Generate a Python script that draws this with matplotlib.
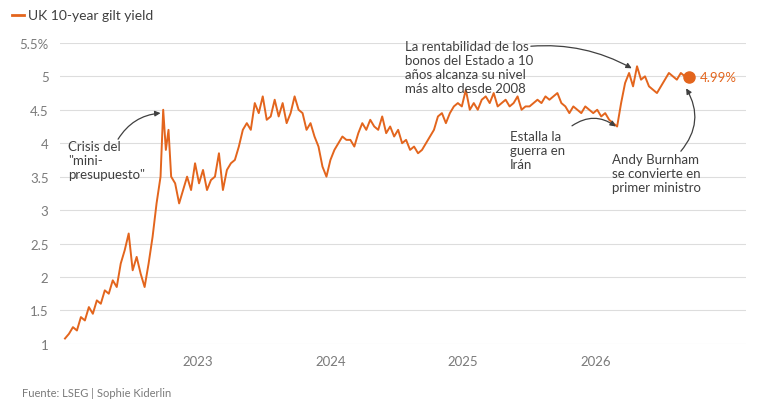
import matplotlib
matplotlib.use("Agg")
from matplotlib import pyplot

# approximate readings of the UK 10-year gilt yield (decimal year, %)
dates = [
    2022.00, 2022.03, 2022.06, 2022.09, 2022.12, 2022.15, 2022.18, 2022.21, 2022.24, 2022.27,
    2022.30, 2022.33, 2022.36, 2022.39, 2022.42, 2022.45, 2022.48, 2022.51, 2022.54, 2022.57,
    2022.60, 2022.63, 2022.66, 2022.69, 2022.72, 2022.74, 2022.76, 2022.78, 2022.80, 2022.83,
    2022.86, 2022.89, 2022.92, 2022.95, 2022.98, 2023.01, 2023.04, 2023.07, 2023.10, 2023.13,
    2023.16, 2023.19, 2023.22, 2023.25, 2023.28, 2023.31, 2023.34, 2023.37, 2023.40, 2023.43,
    2023.46, 2023.49, 2023.52, 2023.55, 2023.58, 2023.61, 2023.64, 2023.67, 2023.70, 2023.73,
    2023.76, 2023.79, 2023.82, 2023.85, 2023.88, 2023.91, 2023.94, 2023.97, 2024.00, 2024.03,
    2024.06, 2024.09, 2024.12, 2024.15, 2024.18, 2024.21, 2024.24, 2024.27, 2024.30, 2024.33,
    2024.36, 2024.39, 2024.42, 2024.45, 2024.48, 2024.51, 2024.54, 2024.57, 2024.60, 2024.63,
    2024.66, 2024.69, 2024.72, 2024.75, 2024.78, 2024.81, 2024.84, 2024.87, 2024.90, 2024.93,
    2024.96, 2024.99, 2025.02, 2025.05, 2025.08, 2025.11, 2025.14, 2025.17, 2025.20, 2025.23,
    2025.26, 2025.29, 2025.32, 2025.35, 2025.38, 2025.41, 2025.44, 2025.47, 2025.50, 2025.53,
    2025.56, 2025.59, 2025.62, 2025.65, 2025.68, 2025.71, 2025.74, 2025.77, 2025.80, 2025.83,
    2025.86, 2025.89, 2025.92, 2025.95, 2025.98, 2026.01, 2026.04, 2026.07, 2026.10, 2026.13,
    2026.16, 2026.19, 2026.22, 2026.25, 2026.28, 2026.31, 2026.34, 2026.37, 2026.40, 2026.43,
    2026.46, 2026.49, 2026.52, 2026.55, 2026.58, 2026.61, 2026.64, 2026.67, 2026.70,
]
yields = [
    1.08, 1.15, 1.25, 1.20, 1.40, 1.35, 1.55, 1.45, 1.65, 1.60,
    1.80, 1.75, 1.95, 1.85, 2.20, 2.40, 2.65, 2.10, 2.30, 2.05,
    1.85, 2.20, 2.60, 3.10, 3.50, 4.50, 3.90, 4.20, 3.50, 3.40,
    3.10, 3.30, 3.50, 3.30, 3.70, 3.40, 3.60, 3.30, 3.45, 3.50,
    3.85, 3.30, 3.60, 3.70, 3.75, 3.95, 4.20, 4.30, 4.20, 4.60,
    4.45, 4.70, 4.35, 4.40, 4.65, 4.40, 4.60, 4.30, 4.45, 4.70,
    4.50, 4.45, 4.20, 4.30, 4.10, 3.95, 3.65, 3.50, 3.75, 3.90,
    4.00, 4.10, 4.05, 4.05, 3.95, 4.15, 4.30, 4.20, 4.35, 4.25,
    4.20, 4.40, 4.15, 4.25, 4.10, 4.20, 4.00, 4.05, 3.90, 3.95,
    3.85, 3.90, 4.00, 4.10, 4.20, 4.40, 4.45, 4.30, 4.45, 4.55,
    4.60, 4.55, 4.80, 4.50, 4.60, 4.50, 4.65, 4.70, 4.60, 4.75,
    4.55, 4.60, 4.65, 4.55, 4.60, 4.70, 4.50, 4.55, 4.55, 4.60,
    4.65, 4.60, 4.70, 4.65, 4.70, 4.75, 4.60, 4.55, 4.45, 4.55,
    4.50, 4.45, 4.55, 4.50, 4.45, 4.50, 4.40, 4.45, 4.35, 4.30,
    4.25, 4.60, 4.90, 5.05, 4.85, 5.15, 4.95, 5.00, 4.85, 4.80,
    4.75, 4.85, 4.95, 5.05, 5.00, 4.95, 5.05, 5.00, 4.99,
]
year_ticks = [2023, 2024, 2025, 2026]
y_ticks = [1, 1.5, 2, 2.5, 3, 3.5, 4, 4.5, 5, 5.5]

orange = "#e3651d"
grey = "#7a7a7a"
dark = "#404040"

pyplot.rcParams["font.family"] = ["Lato", "DejaVu Sans"]

fig = pyplot.figure(figsize=(7.65, 4.14), dpi=100)
ax = fig.add_axes([0.078, 0.167, 0.897, 0.727])

ax.plot(dates, yields, color=orange, linewidth=1.4)
ax.plot(dates[-1], yields[-1], "o", color=orange, markersize=8)

ax.set_xlim(2021.96, 2027.13)
ax.set_ylim(1, 5.5)
ax.set_yticks(y_ticks)
ax.set_yticklabels(
    [("5.5%" if v == 5.5 else f"{v:g}") for v in y_ticks],
)
ax.set_xticks(year_ticks)
ax.set_xticklabels([str(y) for y in year_ticks])
ax.grid(axis="y", color="#dddddd", linewidth=0.8)
ax.set_axisbelow(True)
for side in ax.spines.values():
    side.set_visible(False)
ax.tick_params(length=0, labelsize=9.5, colors=grey, pad=8)

ax.text(2026.78, 4.99, "4.99%", color=orange, fontsize=9.5, va="center")

notes = [
    ("Crisis del\n\"mini-\npresupuesto\"", (2022.02, 4.05)),
    ("La rentabilidad de los\nbonos del Estado a 10\naños alcanza su nivel\nmás alto desde 2008",
     (2024.56, 5.55)),
    ("Estalla la\nguerra en\nIrán", (2025.35, 4.2)),
    ("Andy Burnham\nse convierte en\nprimer ministro", (2026.12, 3.85)),
]
for label, pos in notes:
    ax.text(pos[0], pos[1], label, fontsize=9.5, color=dark, va="top",
            linespacing=1.2)

arrows = [
    ((2022.40, 4.06), (2022.72, 4.45), -0.25),
    ((2025.51, 5.45), (2026.27, 5.12), -0.15),
    ((2025.82, 4.26), (2026.15, 4.25), -0.35),
    ((2026.64, 3.88), (2026.68, 4.82), 0.35),
]
for start, end, rad in arrows:
    ax.annotate(
        "", xy=end, xytext=start,
        arrowprops=dict(arrowstyle="-|>", color=dark, lw=0.9,
                        mutation_scale=8, shrinkA=0, shrinkB=0,
                        connectionstyle=f"arc3,rad={rad}"),
    )

fig.lines.append(pyplot.Line2D([12 / 765, 24 / 765], [1 - 16 / 414] * 2,
                               color=orange, linewidth=2,
                               transform=fig.transFigure))
fig.text(28 / 765, 1 - 16 / 414, "UK 10-year gilt yield", fontsize=10,
         color=dark, va="center")
fig.text(22 / 765, 1 - 394 / 414, "Fuente: LSEG | Sophie Kiderlin",
         fontsize=8, color=grey, va="center")

fig.savefig("out.png", dpi=100)
